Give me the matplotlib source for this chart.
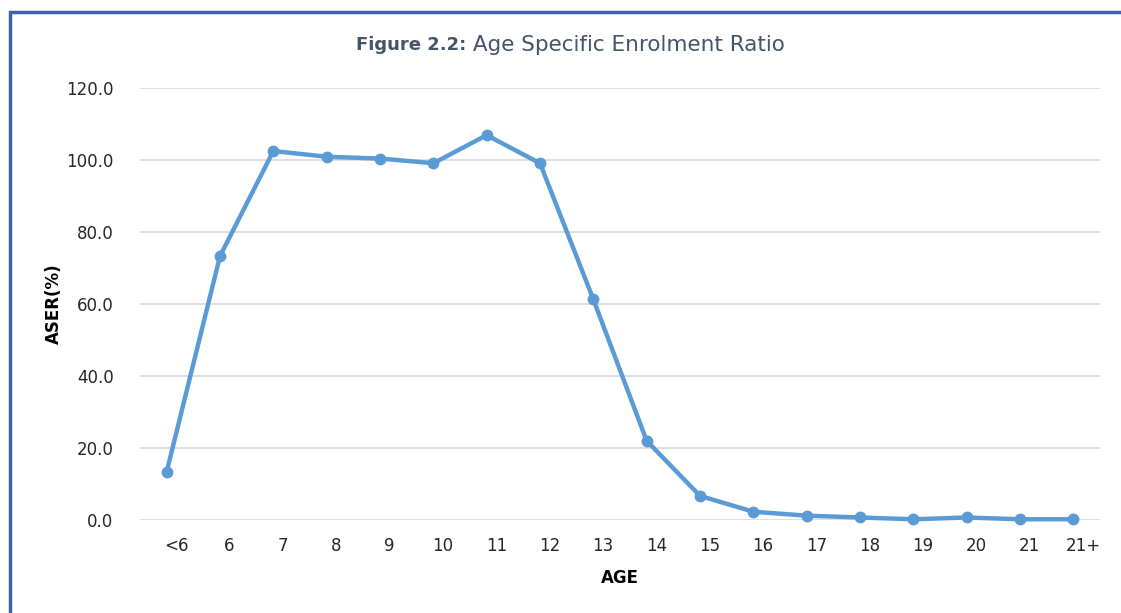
#!/usr/bin/env python3

import matplotlib
matplotlib.use("Agg")
import matplotlib.pyplot as plt
from matplotlib.patches import Rectangle


# ==========================================================
# DATA
# ==========================================================
ages = ["<6", "6", "7", "8", "9", "10", "11", "12", "13",
        "14", "15", "16", "17", "18", "19", "20", "21", "21+"]
aser = [13.4, 73.3, 102.5, 100.9, 100.4, 99.1, 106.9, 99.1, 61.3,
        22.0, 6.7, 2.3, 1.2, 0.7, 0.2, 0.7, 0.2, 0.2]
yticks = [0, 20, 40, 60, 80, 100, 120]


# ==========================================================
# STYLE
# ==========================================================
COL_LINE = "#5b9bd5"
COL_GRID = "#d9d9d9"
COL_TITLE = "#44546a"
COL_FRAME = "#3b62a6"
COL_TEXT = "#262626"

plt.rcParams.update({
    "font.family": ["DejaVu Sans"],
    "font.size": 12,
})

W, H = 1121, 613
fig = plt.figure(figsize=(W / 100, H / 100), dpi=100)

# axes placed in pixel terms: x 140..1100, y(0)=520, y(120)=88
ax = fig.add_axes([140 / W, 1 - 520 / H, 960 / W, 432 / H])

x = list(range(len(ages)))
ax.plot(x, aser, color=COL_LINE, lw=3.2, marker="o", markersize=7.5,
        solid_joinstyle="round", zorder=3, clip_on=False)

ax.set_xlim(-0.5, len(ages) - 0.5)
ax.set_ylim(0, 120)
ax.set_yticks(yticks)
ax.set_yticklabels([f"{v:.1f}" for v in yticks], color=COL_TEXT)

# category labels sit a little right of the points in the original
ax.set_xticks([xi + 0.18 for xi in x])
ax.set_xticklabels(ages, color=COL_TEXT)

ax.grid(axis="y", color=COL_GRID, lw=1.2)
ax.set_axisbelow(True)
for s in ax.spines.values():
    s.set_visible(False)
ax.tick_params(axis="both", length=0, labelsize=12)
ax.tick_params(axis="x", pad=12)
ax.tick_params(axis="y", pad=19)

ax.set_xlabel("AGE", fontweight="bold", fontsize=12, color="black", labelpad=10)
ax.set_ylabel("ASER(%)", fontweight="bold", fontsize=12, color="black", labelpad=2)

# title
TITLE_SPLIT = 466 / W
fig.text(TITLE_SPLIT, 1 - 45 / H, "Figure 2.2:", ha="right", va="center",
         fontsize=13, fontweight="bold", color=COL_TITLE)
fig.text(TITLE_SPLIT, 1 - 45 / H, " Age Specific Enrolment Ratio", ha="left",
         va="center", fontsize=15.5, color=COL_TITLE)

# blue frame (open to right and bottom)
fig.patches.append(Rectangle((10 / W, -0.05), 1.1, 1 - 12 / H + 0.05,
                             transform=fig.transFigure, fill=False,
                             ec=COL_FRAME, lw=2.5))

fig.savefig("out.png", dpi=100)
